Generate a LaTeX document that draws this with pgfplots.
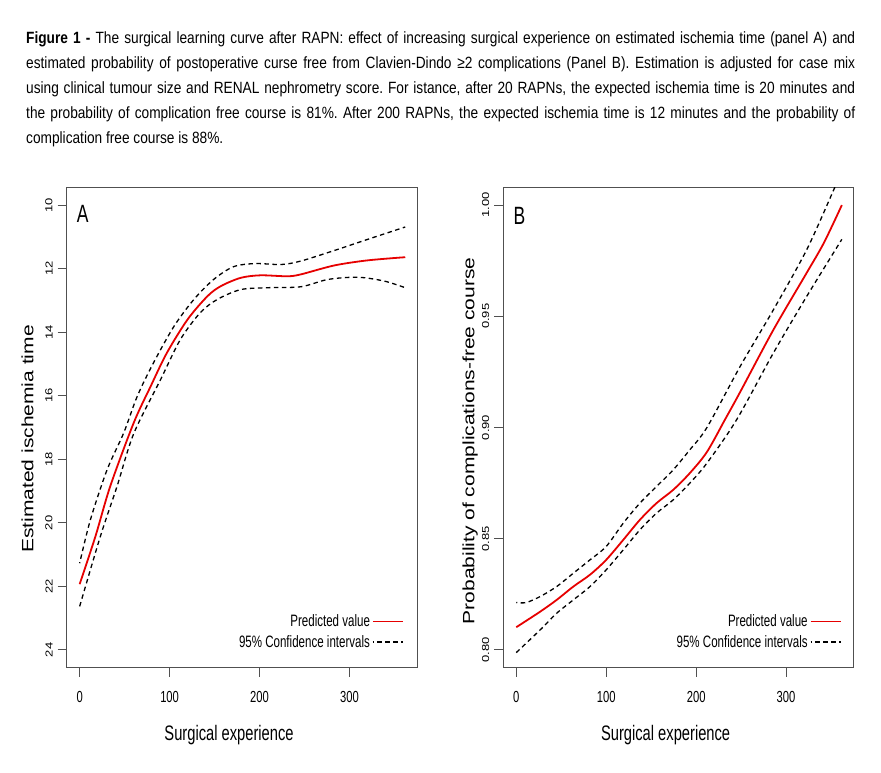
\documentclass[border=0pt]{standalone}
\usepackage{pgfplots}
\pgfplotsset{compat=1.18}
\usepackage{fontspec}
\setmainfont{Liberation Sans}
\newfontfamily\hfont[FakeStretch=0.70]{Liberation Sans}
\newfontfamily\cfont[FakeStretch=0.84]{Liberation Sans}
\definecolor{rred}{RGB}{230,0,0}
\definecolor{boxgray}{RGB}{80,80,80}
\frenchspacing

\pgfplotstableread{
x y
0 21.93
17.5 20.43
34 18.85
60 16.86
79 15.70
97 14.65
120 13.60
142 12.87
157 12.55
179 12.29
201 12.21
231 12.24
246 12.18
283 11.90
320 11.74
362 11.64
}\Apred
\pgfplotstableread{
x y
0 21.27
12 19.90
30.5 18.33
49 17.17
64 16.02
82 14.97
105 13.81
127 12.97
149 12.34
171 11.94
195 11.84
224 11.87
246 11.76
283 11.43
320 11.08
362 10.69
}\Aup
\pgfplotstableread{
x y
0 22.63
23 20.43
41.6 18.85
60 17.20
90 15.49
112 14.23
134 13.39
153 12.97
179 12.66
209 12.60
246 12.57
276 12.34
309 12.27
338.5 12.39
362 12.60
}\Alow
\pgfplotstableread{
x y
0 0.8102
26.6 0.8172
45 0.8225
63.5 0.8285
82 0.8338
100 0.8405
119 0.8495
137.5 0.8585
156 0.866
174.6 0.872
193 0.8795
212 0.889
232 0.9035
249 0.916
286 0.944
323 0.9696
342 0.983
362 1.000
}\Bpred
\pgfplotstableread{
x y
0 0.8213
11 0.8213
26.6 0.824
45 0.8285
63.5 0.8345
82 0.8405
100 0.8465
119 0.857
137.5 0.866
156 0.8735
174.6 0.881
193 0.890
212 0.900
249 0.9275
286 0.953
323 0.980
354 1.0078
362 1.015
}\Bup
\pgfplotstableread{
x y
0 0.7988
26.6 0.809
45 0.8165
63.5 0.8225
82 0.8285
100 0.836
119 0.845
137.5 0.854
156 0.8615
174.6 0.8675
193 0.875
212 0.884
245 0.9035
286 0.9336
323 0.959
362 0.9846
}\Blow

\pgfplotsset{
 rpanel/.style={
   scale only axis, width=350.6pt, height=480.4pt,
   xmin=-14.4, xmax=375.4,
   axis line style={boxgray, line width=0.9pt},
   tick align=outside, major tick length=9pt,
   tick style={boxgray, line width=0.9pt},
   xtick={0,100,200,300}, xticklabels={0,100,200,300},
   xticklabel style={font=\hfont\fontsize{16}{16}\selectfont, anchor=north, inner sep=0pt},
   xticklabel shift=14pt,
   yticklabel style={font=\fontsize{13}{13}\selectfont, rotate=90, transform shape, yscale=0.78, anchor=south, inner sep=0pt},
   yticklabel shift=5pt,
   xtick pos=bottom, ytick pos=left,
   every axis x label/.style={at={(axis description cs:0.463,-0.152)}, anchor=base, font=\hfont\fontsize{21}{21}\selectfont},
   legend plot pos=right, legend cell align=right,
   legend image code/.code={\draw[##1] (0pt,0pt) -- (30pt,0pt);},
   legend style={draw=none, fill=none, font=\hfont\fontsize{16.5}{16.5}\selectfont, anchor=south east, inner sep=0pt, row sep=3pt},
 },
 predline/.style={draw=rred, line width=1.8pt, smooth},
 ciline/.style={draw=black, line width=1.3pt, dash pattern=on 4.5pt off 3.5pt, smooth},
}

\begin{document}
\begin{tikzpicture}
\useasboundingbox (0,0) rectangle (881pt,772pt);

\begin{scope}[every node/.style={anchor=base west, inner sep=0pt, font=\cfont\fontsize{16.3}{25}\selectfont}]
\node at (26pt,728.7pt) {\makebox[829pt][s]{\textbf{Figure 1 -} The surgical learning curve after RAPN: effect of increasing surgical experience on estimated ischemia time (panel A) and}};
\node at (26pt,703.7pt) {\makebox[829pt][s]{estimated probability of postoperative curse free from Clavien-Dindo ≥2 complications (Panel B). Estimation is adjusted for case mix}};
\node at (26pt,678.7pt) {\makebox[829pt][s]{using clinical tumour size and RENAL nephrometry score. For istance, after 20 RAPNs, the expected ischemia time is 20 minutes and}};
\node at (26pt,653.7pt) {\makebox[829pt][s]{the probability of complication free course is 81\%. After 200 RAPNs, the expected ischemia time is 12 minutes and the probability of}};
\node at (26pt,628.7pt) {complication free course is 88\%.};
\end{scope}

\begin{axis}[rpanel, at={(66.7pt,104.3pt)}, anchor=south west,
  ymin=9.44, ymax=24.56, y dir=reverse,
  ytick={10,12,14,16,18,20,22,24},
  yticklabels={10,12,14,16,18,20,22,24},
  xlabel={Surgical experience},
  ylabel={Estimated ischemia time},
  every axis y label/.style={at={(axis description cs:-0.095,0.476)}, rotate=90, transform shape, yscale=0.78, anchor=base, font=\fontsize{21}{21}\selectfont},
  legend style={at={(axis description cs:0.962,0.035)}},
]
\addlegendimage{draw=none, legend image code/.code={}}
\addlegendentry{\phantom{P}}
\addplot[predline] table {\Apred};
\addlegendentry{Predicted value}
\addplot[ciline, dash phase=3.5pt] table {\Aup};
\addlegendentry{95\% Confidence intervals}
\addplot[ciline, forget plot] table {\Alow};
\node[font=\hfont\fontsize{25}{25}\selectfont] at (axis description cs:0.0456,0.944) {A};
\end{axis}

\begin{axis}[rpanel, at={(503.3pt,104.3pt)}, anchor=south west,
  ymin=0.792, ymax=1.008,
  ytick={0.80,0.85,0.90,0.95,1.00},
  yticklabels={0.80,0.85,0.90,0.95,1.00},
  xlabel={Surgical experience},
  ylabel={Probability of complications-free course},
  every axis y label/.style={at={(axis description cs:-0.0823,0.472)}, rotate=90, transform shape, yscale=0.78, anchor=base, font=\fontsize{21}{21}\selectfont},
  legend style={at={(axis description cs:0.965,0.035)}},
]
\addlegendimage{draw=none, legend image code/.code={}}
\addlegendentry{\phantom{P}}
\addplot[predline] table {\Bpred};
\addlegendentry{Predicted value}
\addplot[ciline, dash phase=3.5pt] table {\Bup};
\addlegendentry{95\% Confidence intervals}
\addplot[ciline, forget plot] table {\Blow};
\node[font=\hfont\fontsize{25}{25}\selectfont] at (axis description cs:0.046,0.940) {B};
\end{axis}
\end{tikzpicture}
\end{document}
